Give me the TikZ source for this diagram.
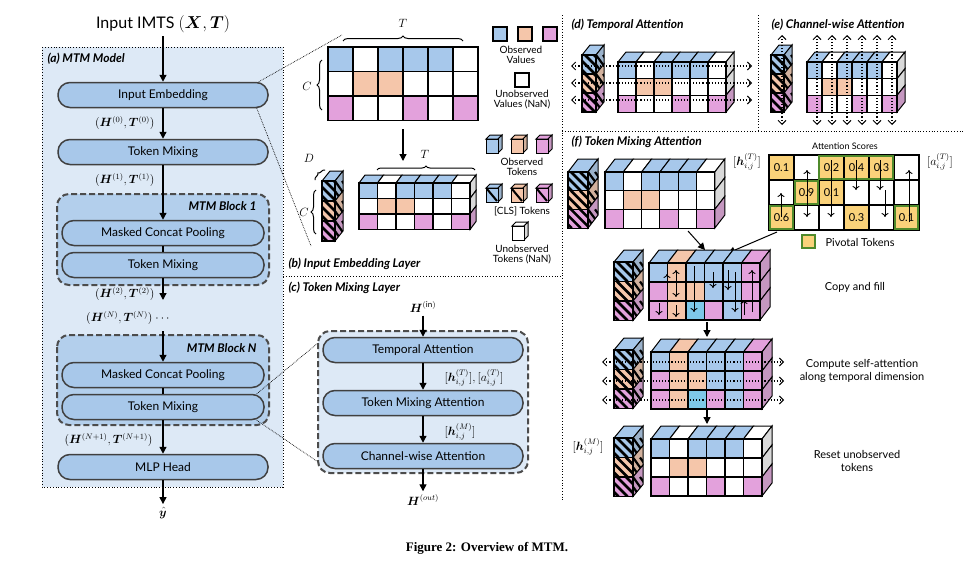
\documentclass[tikz,border=0pt]{standalone}
\usepackage{fontspec}
\usepackage{amsmath,bm}
\setmainfont{Lato}
\usetikzlibrary{arrows.meta,calc,decorations.pathreplacing}
\definecolor{cB}{HTML}{A7C8EB}
\definecolor{cO}{HTML}{F5C6AA}
\definecolor{cP}{HTML}{E3A1DC}
\definecolor{cS}{HTML}{7EC8E8}
\definecolor{cY}{HTML}{FAD27A}
\definecolor{cG}{HTML}{4F8A2B}
\definecolor{panel}{HTML}{DDE9F6}
\definecolor{boxf}{HTML}{A8C8EA}
\colorlet{W}{white}
\newcommand\cgrow[9]{% x0,y0,cw,ch,ox,oy,row,list,istop
 \foreach \c [count=\i from 0] in {#8} {
   \ifnum#9=1
   \filldraw[fill=\c,draw=black,line width=1pt] ({#1+\i*#3},{#2}) -- ++(#5,#6) -- ++(#3,0) -- ++(-#5,-#6) -- cycle;
   \fi
   \ifnum\i=5
   \filldraw[fill=\c!70!gray,draw=black,line width=1pt] ({#1+6*#3},{#2+#7*#4}) -- ++(#5,#6) -- ++(0,#4) -- ++(-#5,-#6) -- cycle;
   \fi
   \filldraw[fill=\c,draw=black,line width=1.1pt] ({#1+\i*#3},{#2+#7*#4}) rectangle ++(#3,#4);
 }}
\newcommand\cubegrid[9]{%
 \cgrow{#1}{#2}{#3}{#4}{#5}{#6}{0}{#7}{1}%
 \cgrow{#1}{#2}{#3}{#4}{#5}{#6}{1}{#8}{0}%
 \cgrow{#1}{#2}{#3}{#4}{#5}{#6}{2}{#9}{0}}
\newcommand\clscol[6]{% x,y,cw,ch,ox,oy
 \filldraw[fill=cB,line width=1pt] (#1,#2) -- ++(#5,#6) -- ++(#3,0) -- ++(-#5,-#6) -- cycle;
 \foreach \c [count=\i from 0] in {cB,cO,cP} {
  \filldraw[fill=\c!70!gray,line width=1pt] ({#1+#3},{#2+\i*#4}) -- ++(#5,#6) -- ++(0,#4) -- ++(-#5,-#6) -- cycle;
  \begin{scope}
   \clip ({#1+#3},{#2+\i*#4}) -- ++(#5,#6) -- ++(0,#4) -- ++(-#5,-#6) -- cycle;
   \foreach \k in {-2,...,4} \draw[line width=2.2pt] ({#1+#3+\k*7},{#2+\i*#4}) -- ++(14,{#4});
  \end{scope}
  \fill[\c] (#1,{#2+\i*#4}) rectangle ++(#3,#4);
  \begin{scope}
   \clip (#1,{#2+\i*#4}) rectangle ++(#3,#4);
   \foreach \k in {-2,...,4} \draw[line width=2.6pt] ({#1+\k*9-6},{#2+\i*#4}) -- ++({#4},{#4});
  \end{scope}
  \draw[line width=1.1pt] (#1,{#2+\i*#4}) rectangle ++(#3,#4);
 }}
\tikzset{
 flow/.style={draw=black!75,line width=1.5pt,fill=boxf,rounded corners=12pt,minimum width=210pt,minimum height=25pt,font=\fontsize{12}{14}\selectfont,inner sep=0},
 flowc/.style={flow,minimum width=200pt},
 blk/.style={draw=black!70,dashed,line width=2pt,dash pattern=on 6pt off 3pt,rounded corners=12pt,fill=boxf!80!panel},
 arr/.style={-{Triangle[length=7pt,width=7pt]},line width=1.3pt},
 dotl/.style={dotted,line width=0.8pt},
 ttl/.style={font=\bfseries\itshape\fontsize{12}{14}\selectfont,anchor=west},
 lbl/.style={font=\fontsize{10}{12}\selectfont,align=center},
 darr/.style={dotted,line width=1.1pt,{Straight Barb[length=4pt,width=8pt,line width=1pt]}-{Straight Barb[length=4pt,width=8pt,line width=1pt]}},
 sc/.style={font=\fontsize{11}{12}\selectfont},
 varr/.style={-{To[length=4pt,width=7pt]},line width=0.9pt},
}
\begin{document}
\begin{tikzpicture}[x=1pt,y=-1pt,every node/.style={font=\fontsize{12}{14}\selectfont}]
\useasboundingbox[fill=white] (0,0) rectangle (975,565);
% ---------- (a)
\node[font=\fontsize{16}{18}\selectfont] (in) at (163,24) {Input IMTS $(\bm{X},\bm{T})$};
\draw[dotl,fill=panel] (42,47) rectangle (283,487);
\node[ttl] at (44,59) {(a) MTM Model};
\node[flow] (ie) at (163,95) {Input Embedding};
\node[flow] (tm0) at (163,152) {Token Mixing};
\draw[blk] (57,194) rectangle (269,285);
\node[ttl,anchor=east] at (260,206) {MTM Block 1};
\node[flow,minimum width=202pt] (mcp1) at (163,233) {Masked Concat Pooling};
\node[flow,minimum width=202pt] (tm1) at (163,265) {Token Mixing};
\draw[blk] (57,335) rectangle (269,425);
\node[ttl,anchor=east] at (260,348) {MTM Block N};
\node[flow,minimum width=202pt] (mcpn) at (163,375) {Masked Concat Pooling};
\node[flow,minimum width=202pt] (tmn) at (163,407) {Token Mixing};
\node[flow] (mlp) at (163,467) {MLP Head};
\node (yh) at (163,513) {$\hat{\bm{y}}$};
\coordinate (a2) at (163,300);
\coordinate (an) at (163,331);
\draw[arr] (in) -- (ie);
\draw[arr] (ie) -- (tm0);
\draw[arr] (tm0) -- (mcp1);
\draw[line width=1.3pt] (mcp1) -- (tm1);
\draw[arr] (tm1) -- (a2);
\draw[arr] (an) -- (mcpn);
\draw[line width=1.3pt] (mcpn) -- (tmn);
\draw[arr] (tmn) -- (mlp);
\draw[arr] (mlp) -- (yh);
\node[anchor=east] at (158,123) {$(\bm{H}^{(0)},\bm{T}^{(0)})$};
\node[anchor=east] at (158,180) {$(\bm{H}^{(1)},\bm{T}^{(1)})$};
\node[anchor=east] at (158,294) {$(\bm{H}^{(2)},\bm{T}^{(2)})$};
\node[anchor=east] at (175,318) {$(\bm{H}^{(N)},\bm{T}^{(N)})$ $\cdots$};
\node[anchor=east] at (156,440) {$(\bm{H}^{(N+1)},\bm{T}^{(N+1)})$};
% zoom lines
\draw[densely dotted,line width=0.7pt] (ie.north east) ++(-10,0) -- (342,35);
\draw[densely dotted,line width=0.7pt] (ie.south east) ++(-12,0) -- (311,246);
\draw[densely dotted,line width=0.7pt] (tmn.north east) ++(-8,0) -- (318,343);
\draw[densely dotted,line width=0.7pt] (tmn.south east) ++(-8,0) -- (318,462);
% panel borders
\draw[dotl] (562,15) -- (562,500);
\draw[dotl] (283,276) -- (562,276);
\draw[dotl] (562,131) -- (965,131);
\draw[dotl] (758,15) -- (758,131);
% ---------- (b)
\foreach \c [count=\i from 0] in {cB,W,cB,cB,cB,W} \filldraw[fill=\c,line width=1.1pt] ({328+\i*25},47) rectangle ++(25,24.5);
\foreach \c [count=\i from 0] in {W,cO,cO,W,W,W} \filldraw[fill=\c,line width=1.1pt] ({328+\i*25},71.5) rectangle ++(25,24.5);
\foreach \c [count=\i from 0] in {cP,W,W,cP,W,cP} \filldraw[fill=\c,line width=1.1pt] ({328+\i*25},96) rectangle ++(25,24.5);
\draw[decorate,decoration={brace,amplitude=5pt},line width=1pt] (343,41) -- (463,41);
\node at (403,23) {$T$};
\draw[decorate,decoration={brace,amplitude=5pt,mirror},line width=1pt] (322,60) -- (322,110);
\node at (307,86) {$C$};
\coordinate (b1) at (403,129); \coordinate (b2) at (403,161);
\draw[arr] (b1) -- (b2);
\foreach \c [count=\i from 0] in {cB,cO,cP} \filldraw[fill=\c,line width=1.1pt] ({493+\i*25},27) rectangle ++(14,14);
\node[lbl] at (521,55) {Observed\\[-2pt]Values};
\filldraw[fill=white,line width=1.1pt] (515,73) rectangle ++(14,14);
\node[lbl] at (522,100) {Unobserved\\[-2pt]Values (NaN)};
\cubegrid{359}{183}{18.5}{15.5}{6}{-8}{cB,W,cB,cB,cB,W}{W,cO,cO,W,W,W}{cP,W,W,cP,W,cP}
\clscol{322}{181}{13}{20}{8}{-10}
\draw[decorate,decoration={brace,amplitude=4pt},line width=1pt] (377,170) -- (475,170);
\node at (425,154) {$T$};
\draw[decorate,decoration={brace,amplitude=3pt},line width=1pt] (315,180) -- (325,170);
\node at (309,158) {$D$};
\draw[decorate,decoration={brace,amplitude=5pt,mirror},line width=1pt] (316,190) -- (316,234);
\node at (304,212) {$C$};
% legend cubes
\foreach \c [count=\i from 0] in {cB,cO,cP} {
 \filldraw[fill=\c,line width=1pt] ({486+\i*25},139) -- ++(4,-4) -- ++(12,0) -- ++(-4,4) -- cycle;
 \filldraw[fill=\c!70!gray,line width=1pt] ({498+\i*25},139) -- ++(4,-4) -- ++(0,14) -- ++(-4,4) -- cycle;
 \filldraw[fill=\c,line width=1pt] ({486+\i*25},139) rectangle ++(12,14);
 \filldraw[fill=\c,line width=1pt] ({486+\i*25},188) -- ++(4,-4) -- ++(12,0) -- ++(-4,4) -- cycle;
 \filldraw[fill=\c!70!gray,line width=1pt] ({498+\i*25},188) -- ++(4,-4) -- ++(0,14) -- ++(-4,4) -- cycle;
 \filldraw[fill=\c,line width=1pt] ({486+\i*25},188) rectangle ++(12,14);
 \draw[line width=2pt] ({487+\i*25},189) -- ++(10,12);
}
\node[lbl] at (522,167) {Observed\\[-2pt]Tokens};
\node[lbl] at (522,211) {[CLS] Tokens};
\filldraw[fill=white,line width=1pt] (512,226) -- ++(4,-4) -- ++(12,0) -- ++(-4,4) -- cycle;
\filldraw[fill=gray!30,line width=1pt] (524,226) -- ++(4,-4) -- ++(0,14) -- ++(-4,4) -- cycle;
\filldraw[fill=white,line width=1pt] (512,226) rectangle ++(12,14);
\node[lbl] at (522,255) {Unobserved\\[-2pt]Tokens (NaN)};
\node[ttl] at (285,264) {(b) Input Embedding Layer};
% ---------- (c)
\node[ttl] at (285,288) {(c) Token Mixing Layer};
\node (hin) at (423,307) {$\bm{H}^{(\mathrm{in})}$};
\draw[blk,fill=panel] (318,331) rectangle (528,473);
\node[flowc] (ta) at (423,350) {Temporal Attention};
\node[flowc] (tma) at (423,403) {Token Mixing Attention};
\node[flowc] (ca) at (423,456) {Channel-wise Attention};
\node (hout) at (423,500) {$\bm{H}^{(out)}$};
\draw[arr] (hin) -- (ta);
\draw[arr] (ta) -- (tma);
\draw[arr] (tma) -- (ca);
\draw[arr] (ca) -- (hout);
\node at (474,378) {$[\bm{h}^{(T)}_{i,j}],[a^{(T)}_{i,j}]$};
\node at (460,432) {$[\bm{h}^{(M)}_{i,j}]$};
% ---------- (d)
\node[ttl] at (568,25) {(d) Temporal Attention};
\cubegrid{618}{62}{18}{16.7}{8}{-10}{cB,W,cB,cB,cB,W}{W,cO,cO,W,W,W}{cP,W,W,cP,W,cP}
\clscol{582}{55}{14}{19}{8}{-10}
\foreach \yy in {66,83,100} \draw[darr] (571,\yy) -- (752,\yy);
% ---------- (e)
\node[ttl] at (768,25) {(e) Channel-wise Attention};
\cubegrid{807}{62}{15}{16.7}{8}{-10}{cB,W,cB,cB,cB,W}{W,cO,cO,W,W,W}{cP,W,W,cP,W,cP}
\clscol{771}{55}{13}{19}{8}{-10}
\foreach \xx in {782,817,832,847,862,877,892} \draw[darr] (\xx,125) -- (\xx,35);
% ---------- (f)
\node[ttl] at (568,142) {(f) Token Mixing Attention};
\cubegrid{605}{172}{18.3}{18.7}{10}{-13}{cB,W,cB,cB,cB,W}{W,cO,cO,W,W,W}{cP,W,W,cP,W,cP}
\clscol{568}{172}{20}{18.7}{10}{-13}
\node at (747,162) {$[\bm{h}^{(T)}_{i,j}]$};
\node[font=\fontsize{9}{10}\selectfont] at (845,146) {Attention Scores};
\node at (940,162) {$[a^{(T)}_{i,j}]$};
\foreach \r/\cc/\v in {0/0/0.1,0/2/0.2,0/3/0.4,0/4/0.3,1/1/0.9,1/2/0.1,2/0/0.6,2/3/0.3,2/5/0.1}
  \fill[cY] ({769+\cc*25},{155+\r*25}) rectangle ++(25,25);
\foreach \r in {0,1,2} \foreach \cc in {0,...,5} \draw[line width=1.1pt] ({769+\cc*25},{155+\r*25}) rectangle ++(25,25);
\draw[cG,line width=2.5pt] (819,156) rectangle (893,179);
\draw[cG,line width=2.5pt] (795,181) rectangle (818,204);
\draw[cG,line width=2.5pt] (770,206) rectangle (793,229);
\draw[cG,line width=2.5pt] (895,206) rectangle (918,229);
\draw[varr] (807,193) -- (807,170);
\draw[varr] (807,193) -- (807,217);
\draw[varr] (781,217) -- (781,193);
\draw[varr] (831,160) -- (831,217);
\draw[varr] (856,160) -- (856,190);
\draw[varr] (880,160) -- (880,190);
\draw[varr] (885,190) -- (885,217);
\draw[varr] (909,222) -- (909,170);
\foreach \r/\cc/\v in {0/0/0.1,0/2/0.2,0/3/0.4,0/4/0.3,1/1/0.9,1/2/0.1,2/0/0.6,2/3/0.3,2/5/0.1}
  \node[sc] at ({781.5+\cc*25},{167.5+\r*25}) {\v};
\filldraw[fill=cY,draw=cG,line width=2pt] (802,235) rectangle ++(13,13);
\node[font=\fontsize{11}{12}\selectfont,anchor=west] at (822,242) {Pivotal Tokens};
\coordinate (f1) at (688,231); \coordinate (f2) at (705,250);
\coordinate (f3) at (777,232); \coordinate (f4) at (728,253);
\draw[arr,line width=1pt] (f1) -- (f2);
\draw[arr,line width=1pt] (f3) -- (f4);
% copy and fill
\cubegrid{649}{263}{18.5}{19}{10}{-13}{cB,cO,cB,cB,cB,cP}{cP,cO,cO,cB,cB,cP}{cP,cO,cS,cP,cB,cP}
\clscol{614}{262}{19}{19.5}{10}{-12}
\draw[varr] (667,292) -- (667,274); \draw[varr] (659,303) -- (659,315);
\draw[varr] (676,280) -- (676,270); \draw[varr] (676,280) -- (676,297);\draw[varr] (676,305) -- (676,317);
\draw[varr] (694,266) -- (694,312);
\draw[varr] (713,272) -- (713,288);
\draw[varr] (728,270) -- (728,290);\draw[varr] (735,272) -- (735,312);
\draw[varr] (752,312) -- (752,270);\draw[varr] (744,315) -- (744,300);
\node[font=\fontsize{11}{12}\selectfont] at (855,287) {Copy and fill};
\coordinate (g1) at (707,322); \coordinate (g2) at (707,337);
\draw[arr] (g1) -- (g2);
% compute
\cubegrid{651}{352}{18.5}{19}{10}{-13}{cB,cO,cB,cB,cB,cP}{cP,cO,cO,cB,cB,cP}{cP,cO,cS,cP,cB,cP}
\clscol{614}{350}{19}{19.5}{10}{-12}
\foreach \yy in {362,381,400} \draw[darr] (602,\yy) -- (784,\yy);
\node[font=\fontsize{11}{13}\selectfont,align=center] at (862,371) {Compute self-attention\\along temporal dimension};
\coordinate (g3) at (707,410); \coordinate (g4) at (707,424);
\draw[arr] (g3) -- (g4);
% reset
\cubegrid{651}{439}{18.5}{19}{10}{-13}{cB,W,cB,cB,cB,W}{W,cO,cO,W,W,W}{cP,W,W,cP,W,cP}
\clscol{614}{438}{19}{19.5}{10}{-12}
\node at (588,447) {$[\bm{h}^{(M)}_{i,j}]$};
\node[font=\fontsize{11}{13}\selectfont,align=center] at (857,461) {Reset unobserved\\tokens};
% caption
\node[font=\fontsize{13}{15}\selectfont] at (487,548) {\fontspec{Liberation Serif}\bfseries Figure 2: Overview of MTM.};
\end{tikzpicture}
\end{document}
